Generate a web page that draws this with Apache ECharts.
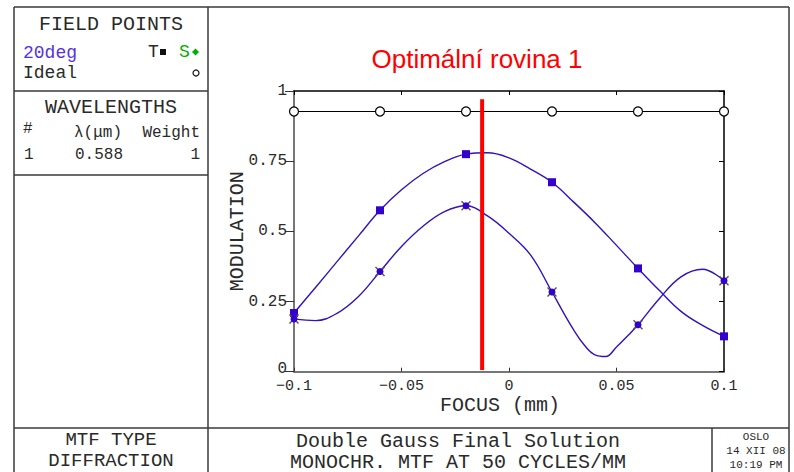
<!DOCTYPE html>
<html>
<head>
<meta charset="utf-8">
<script src="https://cdn.jsdelivr.net/npm/echarts@6/dist/echarts.min.js"></script>
<style>
html,body{margin:0;padding:0;background:#fff;}
#chart{width:794px;height:472px;}
</style>
</head>
<body>
<div id="chart"></div>
<script>
// ---- data ----
const markerX = [-0.1, -0.06, -0.02, 0.02, 0.06, 0.1];
const idealVals = [0.927, 0.927, 0.927, 0.927, 0.927, 0.927];
const tMarkVals = [0.209, 0.575, 0.775, 0.675, 0.368, 0.126];
const sMarkVals = [0.188, 0.357, 0.591, 0.284, 0.167, 0.324];
const tCurveX = [-0.1, -0.09, -0.08, -0.07, -0.06, -0.05, -0.04, -0.03, -0.02, -0.01, 0, 0.01, 0.02, 0.03, 0.04, 0.05, 0.06, 0.07, 0.08, 0.09, 0.1];
const tCurve = [0.209, 0.300, 0.392, 0.484, 0.575, 0.648, 0.706, 0.748, 0.775, 0.780, 0.762, 0.722, 0.675, 0.605, 0.531, 0.450, 0.368, 0.289, 0.215, 0.165, 0.126];
const sCurveX = [-0.1, -0.09, -0.08, -0.07, -0.06, -0.05, -0.04, -0.03, -0.02, -0.01, 0, 0.01, 0.02, 0.025, 0.03, 0.035, 0.04, 0.045, 0.05, 0.055, 0.06, 0.07, 0.08, 0.09, 0.1];
const sCurve = [0.188, 0.182, 0.208, 0.268, 0.357, 0.446, 0.518, 0.570, 0.591, 0.555, 0.493, 0.416, 0.284, 0.215, 0.150, 0.095, 0.060, 0.054, 0.088, 0.126, 0.167, 0.261, 0.338, 0.365, 0.324];
const planeX = [-0.0125, -0.0125];
const planeY = [0.006, 0.971];
const xTickLabels = ['\u22120.1', '\u22120.05', '0', '0.05', '0.1'];
const yTickLabels = ['0', '0.25', '0.5', '0.75', '1'];
const titleText = 'Optimální rovina 1';
const xName = 'FOCUS (mm)';
const yName = 'MODULATION';

// ---- styles ----
const MONO = "'Liberation Mono', 'DejaVu Sans Mono', monospace";
const CURVE = '#3311bb';
const MARK = '#3300cc';
const FRAME = '#3a3a3a';
const TEXT = '#2a2a2a';

const pairs = (xs, ys) => xs.map((x, i) => [x, ys[i]]);

function line(x1, y1, x2, y2) {
  return { type: 'line', silent: true, shape: { x1, y1, x2, y2 }, style: { stroke: FRAME, lineWidth: 1.5 } };
}
function txt(text, x, y, size, align, color, font) {
  return {
    type: 'text', silent: true,
    style: {
      text, x, y,
      font: 'normal ' + size + 'px ' + (font || MONO),
      fill: color || TEXT,
      textAlign: align || 'left', textVerticalAlign: 'middle',
      align: align || 'left', verticalAlign: 'middle'
    }
  };
}

const xPath = 'path://M0,1L1,0L5,4L9,0L10,1L6,5L10,9L9,10L5,6L1,10L0,9L4,5Z';

const chart = echarts.init(document.getElementById('chart'), null, { renderer: 'svg' });
chart.setOption({
  animation: false,
  backgroundColor: '#fff',
  grid: { left: 294, right: 70, top: 91, bottom: 100.3, containLabel: false },
  xAxis: [
    {
      type: 'value', min: -0.1, max: 0.1, interval: 0.05, position: 'bottom',
      axisLine: { show: true, onZero: false, lineStyle: { color: '#777', width: 2 } },
      axisTick: { show: true, inside: true, length: 4, lineStyle: { color: '#333', width: 1 } },
      axisLabel: { margin: 7, fontFamily: MONO, fontSize: 15, color: TEXT,
        formatter: (v, i) => xTickLabels[i] },
      splitLine: { show: false },
      name: xName, nameLocation: 'middle', nameGap: 24, nameMoveOverlap: false,
      nameTextStyle: { fontFamily: MONO, fontSize: 20, fontWeight: 'normal', color: TEXT, padding: [0, 18, 0, 0] }
    },
    {
      type: 'value', min: -0.1, max: 0.1, interval: 0.05, position: 'top',
      axisLine: { show: true, onZero: false, lineStyle: { color: '#000', width: 1.5 } },
      axisTick: { show: true, inside: true, length: 4, lineStyle: { color: '#000', width: 1 } },
      axisLabel: { show: false },
      splitLine: { show: false }
    }
  ],
  yAxis: [
    {
      type: 'value', min: 0, max: 1, interval: 0.25, position: 'left',
      axisLine: { show: true, onZero: false, lineStyle: { color: '#777', width: 2 } },
      axisTick: { show: true, inside: false, length: 9, lineStyle: { color: '#333', width: 1 } },
      axisLabel: { margin: 7, fontFamily: MONO, fontSize: 16, color: TEXT,
        formatter: (v, i) => (i === 0 ? '{z|' + yTickLabels[i] + '}' : yTickLabels[i]),
        rich: { z: { fontFamily: MONO, fontSize: 16, color: TEXT, lineHeight: 12, padding: [0, 0, 6, 0] } } },
      splitLine: { show: false },
      name: yName, nameLocation: 'middle', nameGap: 47, nameMoveOverlap: false,
      nameTextStyle: { fontFamily: MONO, fontSize: 20, fontWeight: 'normal', color: TEXT }
    },
    {
      type: 'value', min: 0, max: 1, interval: 0.25, position: 'right',
      axisLine: { show: true, onZero: false, lineStyle: { color: '#000', width: 1.5 } },
      axisTick: { show: true, inside: true, length: 5, lineStyle: { color: '#000', width: 1 } },
      axisLabel: { show: false },
      splitLine: { show: false }
    }
  ],
  series: [
    {
      name: 'Ideal', type: 'line', clip: false, z: 3,
      data: pairs(markerX, idealVals),
      lineStyle: { color: '#000', width: 1.2 },
      symbol: 'circle', symbolSize: 9, showSymbol: true, showAllSymbol: true,
      itemStyle: { color: '#fff', borderColor: '#000', borderWidth: 1.2 }
    },
    {
      name: 'T curve', type: 'line', smooth: 0.4, clip: false, z: 3,
      data: pairs(tCurveX, tCurve), symbol: 'none',
      lineStyle: { color: CURVE, width: 1.4 }
    },
    {
      name: 'S curve', type: 'line', smooth: 0.4, clip: false, z: 3,
      data: pairs(sCurveX, sCurve), symbol: 'none',
      lineStyle: { color: CURVE, width: 1.4 }
    },
    {
      name: 'T', type: 'scatter', clip: false, z: 4,
      data: pairs(markerX, tMarkVals), symbol: 'rect', symbolSize: 8,
      itemStyle: { color: MARK, opacity: 1 }
    },
    {
      name: 'S cross', type: 'scatter', clip: false, z: 4,
      data: pairs(markerX, sMarkVals), symbol: xPath, symbolSize: 10,
      itemStyle: { color: '#555', opacity: 1 }
    },
    {
      name: 'S', type: 'scatter', clip: false, z: 5,
      data: pairs(markerX, sMarkVals), symbol: 'circle', symbolSize: 7,
      itemStyle: { color: MARK, opacity: 1 }
    },
    {
      name: 'plane', type: 'line', clip: false, z: 6,
      data: pairs(planeX, planeY), symbol: 'none',
      lineStyle: { color: '#ff0000', width: 4, cap: 'butt' }
    }
  ],
  graphic: [
    // frame
    line(14, 7, 789, 7),
    line(14, 7, 14, 472),
    line(789, 7, 789, 472),
    line(208, 7, 208, 472),
    line(14, 91, 208, 91),
    line(14, 175, 208, 175),
    line(14, 428, 789, 428),
    line(712, 428, 712, 472),
    // title
    txt(titleText, 477, 59, 26, 'center', '#ff0000', "'Liberation Sans', Arial, sans-serif"),
    // field points
    txt('FIELD POINTS', 111, 24, 20, 'center'),
    txt('20deg', 23, 53, 18, 'left', '#5533dd'),
    txt('T', 148, 52, 18, 'left'),
    { type: 'rect', silent: true, shape: { x: 160, y: 49, width: 6, height: 6 }, style: { fill: '#111' } },
    txt('S', 179, 52, 18, 'left', '#00b000'),
    { type: 'polygon', silent: true, shape: { points: [[195.5, 48.5], [199, 52], [195.5, 55.5], [192, 52]] }, style: { fill: '#00b000' } },
    txt('Ideal', 23, 73, 18, 'left'),
    { type: 'circle', silent: true, shape: { cx: 196, cy: 73, r: 3 }, style: { fill: 'none', stroke: '#111', lineWidth: 1.2 } },
    // wavelengths
    txt('WAVELENGTHS', 111, 107, 20, 'center'),
    txt('#', 23, 129, 16, 'left'),
    txt('\u03bb(\u03bcm)', 98, 133, 16, 'center'),
    txt('Weight', 200, 133, 16, 'right'),
    txt('1', 24, 155, 16, 'left'),
    txt('0.588', 99, 155, 16, 'center'),
    txt('1', 200, 155, 16, 'right'),
    // bottom
    txt('MTF TYPE', 111, 440, 19, 'center'),
    txt('DIFFRACTION', 111, 461, 19, 'center'),
    txt('Double Gauss Final Solution', 458, 441, 20, 'center'),
    txt('MONOCHR. MTF AT 50 CYCLES/MM', 458, 462, 20, 'center'),
    txt('OSLO', 756, 437, 11, 'center'),
    txt('14 XII 08', 756, 451, 11, 'center'),
    txt('10:19 PM', 756, 465, 11, 'center')
  ]
});
</script>
</body>
</html>
